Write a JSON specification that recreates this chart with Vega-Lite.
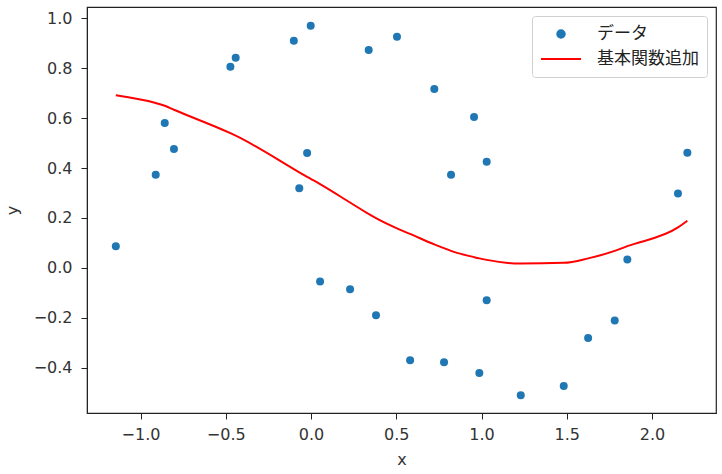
{
  "$schema": "https://vega.github.io/schema/vega-lite/v6.json",
  "autosize": "none",
  "width": 629,
  "height": 406,
  "padding": {"left": 87, "top": 7, "right": 6, "bottom": 61},
  "background": "white",
  "config": {
    "font": "DejaVu Sans",
    "view": {"stroke": "#222", "strokeWidth": 1.2},
    "axis": {
      "grid": false,
      "domainColor": "#222",
      "tickColor": "#222",
      "tickSize": 6,
      "labelFontSize": 16,
      "labelColor": "#333",
      "titleFontSize": 16,
      "titleFontWeight": "normal",
      "titleColor": "#333",
      "labelFont": "DejaVu Sans",
      "titleFont": "DejaVu Sans"
    }
  },
  "datasets": {
    "points": [
      {"x": -1.145, "y": 0.087, "series": "データ"},
      {"x": -0.911, "y": 0.373, "series": "データ"},
      {"x": -0.858, "y": 0.581, "series": "データ"},
      {"x": -0.804, "y": 0.477, "series": "データ"},
      {"x": -0.473, "y": 0.806, "series": "データ"},
      {"x": -0.442, "y": 0.843, "series": "データ"},
      {"x": -0.101, "y": 0.911, "series": "データ"},
      {"x": -0.069, "y": 0.319, "series": "データ"},
      {"x": -0.023, "y": 0.461, "series": "データ"},
      {"x": -0.002, "y": 0.971, "series": "データ"},
      {"x": 0.053, "y": -0.055, "series": "データ"},
      {"x": 0.229, "y": -0.086, "series": "データ"},
      {"x": 0.338, "y": 0.874, "series": "データ"},
      {"x": 0.381, "y": -0.19, "series": "データ"},
      {"x": 0.504, "y": 0.927, "series": "データ"},
      {"x": 0.581, "y": -0.37, "series": "データ"},
      {"x": 0.723, "y": 0.717, "series": "データ"},
      {"x": 0.78, "y": -0.378, "series": "データ"},
      {"x": 0.821, "y": 0.373, "series": "データ"},
      {"x": 0.956, "y": 0.605, "series": "データ"},
      {"x": 0.987, "y": -0.422, "series": "データ"},
      {"x": 1.03, "y": 0.425, "series": "データ"},
      {"x": 1.03, "y": -0.13, "series": "データ"},
      {"x": 1.23, "y": -0.511, "series": "データ"},
      {"x": 1.482, "y": -0.474, "series": "データ"},
      {"x": 1.625, "y": -0.281, "series": "データ"},
      {"x": 1.781, "y": -0.211, "series": "データ"},
      {"x": 1.855, "y": 0.034, "series": "データ"},
      {"x": 2.152, "y": 0.298, "series": "データ"},
      {"x": 2.207, "y": 0.462, "series": "データ"}
    ],
    "curve": [
      {"x": -1.145, "y": 0.692, "series": "基本関数追加"},
      {"x": -0.911, "y": 0.661, "series": "基本関数追加"},
      {"x": -0.858, "y": 0.65, "series": "基本関数追加"},
      {"x": -0.804, "y": 0.634, "series": "基本関数追加"},
      {"x": -0.473, "y": 0.54, "series": "基本関数追加"},
      {"x": -0.442, "y": 0.53, "series": "基本関数追加"},
      {"x": -0.101, "y": 0.396, "series": "基本関数追加"},
      {"x": -0.069, "y": 0.383, "series": "基本関数追加"},
      {"x": -0.023, "y": 0.365, "series": "基本関数追加"},
      {"x": -0.002, "y": 0.357, "series": "基本関数追加"},
      {"x": 0.053, "y": 0.336, "series": "基本関数追加"},
      {"x": 0.229, "y": 0.262, "series": "基本関数追加"},
      {"x": 0.338, "y": 0.216, "series": "基本関数追加"},
      {"x": 0.381, "y": 0.199, "series": "基本関数追加"},
      {"x": 0.504, "y": 0.158, "series": "基本関数追加"},
      {"x": 0.581, "y": 0.136, "series": "基本関数追加"},
      {"x": 0.723, "y": 0.094, "series": "基本関数追加"},
      {"x": 0.78, "y": 0.079, "series": "基本関数追加"},
      {"x": 0.821, "y": 0.068, "series": "基本関数追加"},
      {"x": 0.956, "y": 0.043, "series": "基本関数追加"},
      {"x": 0.987, "y": 0.038, "series": "基本関数追加"},
      {"x": 1.03, "y": 0.032, "series": "基本関数追加"},
      {"x": 1.23, "y": 0.017, "series": "基本関数追加"},
      {"x": 1.482, "y": 0.02, "series": "基本関数追加"},
      {"x": 1.625, "y": 0.038, "series": "基本関数追加"},
      {"x": 1.781, "y": 0.068, "series": "基本関数追加"},
      {"x": 1.855, "y": 0.087, "series": "基本関数追加"},
      {"x": 2.152, "y": 0.162, "series": "基本関数追加"},
      {"x": 2.207, "y": 0.189, "series": "基本関数追加"}
    ]
  },
  "encoding": {
    "x": {
      "field": "x", "type": "quantitative",
      "scale": {"domain": [-1.314, 2.375], "nice": false, "zero": false},
      "axis": {"title": "x", "values": [-1, -0.5, 0, 0.5, 1, 1.5, 2], "format": ".1f", "labelPadding": 7, "titlePadding": 9}
    },
    "y": {
      "field": "y", "type": "quantitative",
      "scale": {"domain": [-0.582, 1.046], "nice": false, "zero": false},
      "axis": {"title": "y", "values": [-0.4, -0.2, 0, 0.2, 0.4, 0.6, 0.8, 1.0], "format": ".1f", "labelPadding": 9, "titlePadding": 13}
    },
    "color": {
      "field": "series", "type": "nominal",
      "scale": {"domain": ["データ", "基本関数追加"], "range": ["#1f77b4", "#ff0000"]},
      "legend": {
        "title": null,
        "orient": "top-right",
        "offset": 9,
        "fillColor": "white",
        "strokeColor": "#d0d0d0",
        "cornerRadius": 3,
        "padding": 8,
        "labelFontSize": 17,
        "labelColor": "#222",
        "labelFont": "Noto Sans CJK JP",
        "labelOffset": 15,
        "rowPadding": 5,
        "clipHeight": 20,
        "symbolSize": 300,
        "encode": {
          "symbols": {
            "update": {
              "shape": {"signal": "datum.value === 'データ' ? 'circle' : 'stroke'"},
              "size": {"signal": "datum.value === 'データ' ? 56 : 1600"},
              "fill": {"signal": "datum.value === 'データ' ? '#1f77b4' : 'transparent'"},
              "stroke": {"signal": "datum.value === 'データ' ? 'transparent' : '#ff0000'"},
              "strokeWidth": {"value": 2},
              "opacity": {"value": 1}
            }
          }
        }
      }
    }
  },
  "layer": [
    {
      "data": {"name": "curve"},
      "mark": {"type": "line", "strokeWidth": 2, "interpolate": "monotone", "clip": true}
    },
    {
      "data": {"name": "points"},
      "mark": {"type": "point", "filled": true, "size": 64, "opacity": 1}
    }
  ]
}
